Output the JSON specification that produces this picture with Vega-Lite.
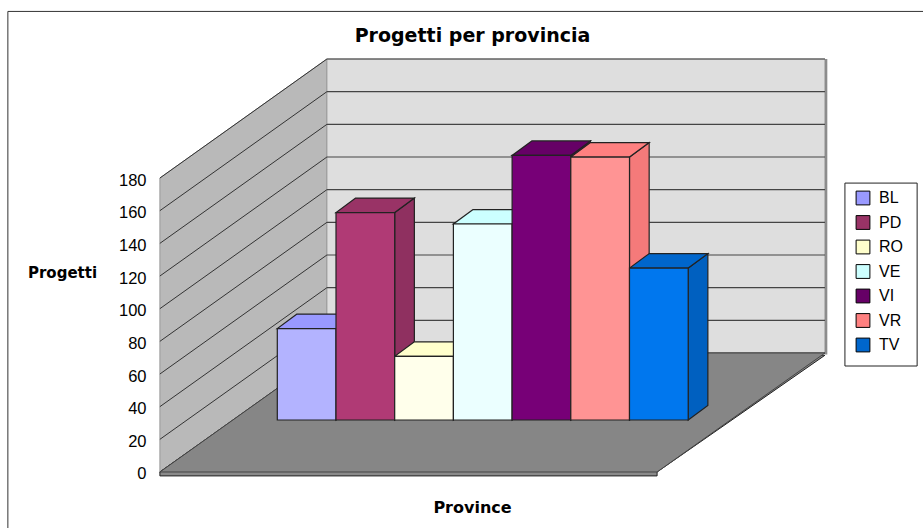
{
"$schema":"https://vega.github.io/schema/vega-lite/v6.json",
"width":923,"height":528,"padding":0,"autosize":{"type":"none"},"background":"white",
"title":{"text":"Progetti per provincia","font":"DejaVu Sans","fontSize":19,"fontWeight":"bold","color":"#000","anchor":"middle","frame":"group","offset":-46,"dx":11},
"config":{"view":{"stroke":null},"font":"Liberation Sans"},
"datasets":{
"province":[
{"provincia":"BL","ordine":0,"progetti":56},
{"provincia":"PD","ordine":1,"progetti":127},
{"provincia":"RO","ordine":2,"progetti":39},
{"provincia":"VE","ordine":3,"progetti":120},
{"provincia":"VI","ordine":4,"progetti":162},
{"provincia":"VR","ordine":5,"progetti":161},
{"provincia":"TV","ordine":6,"progetti":93}],
"griglia":[{"livello":0},{"livello":20},{"livello":40},{"livello":60},{"livello":80},{"livello":100},{"livello":120},{"livello":140},{"livello":160},{"livello":180}],
"cornice":[{"x":-4.59,"x2":11.2,"y":-40,"y2":282}],
"riquadro":[{"x":9.67,"x2":10.9,"y":64.9,"y2":176.9}],
"fianco":[{"x":-2.0,"y":0,"y2":180},{"x":0.845,"y":72.86,"y2":252.86}],
"fondo":[{"x":0.845,"x2":9.33,"y":72.86,"y2":252.86}],
"costa":[{"x":9.33,"x2":9.37,"y":72,"y2":252.86}],
"lastra":[{"x":-2.0,"x2":6.47,"y":-2.4},{"x":-2.0,"x2":6.47,"y":0},{"x":0.845,"x2":9.33,"y":71.5}],
"pavimento":[{"x":-2.0,"x2":6.47,"y":0},{"x":0.845,"x2":9.33,"y":72.86}]
},
"layer":[
{"data":{"name":"cornice"},"mark":{"type":"rect","filled":false,"stroke":"#333333","strokeWidth":1},
 "encoding":{
  "x":{"field":"x","type":"quantitative","scale":{"domain":[-4.724,11.0],"nice":false,"zero":false},
   "axis":{"title":"Province","labels":false,"ticks":false,"domain":false,"grid":false,"titleFont":"DejaVu Sans","titleFontSize":16,"titleFontWeight":"bold","titleColor":"#000","titleX":472,"titleY":-29,"titleAnchor":"middle"}},
  "x2":{"field":"x2"},
  "y":{"field":"y","type":"quantitative","scale":{"domain":[-34.29,289],"nice":false,"zero":false},
   "axis":{"offset":-160,"values":[0,20,40,60,80,100,120,140,160,180],"ticks":false,"domain":false,"grid":false,"labelPadding":14,"labelOffset":2,"labelFont":"Liberation Sans","labelFontSize":16.5,"labelColor":"#000","title":"Progetti","titleAngle":0,"titleFont":"DejaVu Sans","titleFontSize":15,"titleFontWeight":"bold","titleColor":"#000","titleX":-98,"titleY":272,"titleAlign":"center","titleBaseline":"middle"}},
  "y2":{"field":"y2"}}},
{"data":{"name":"riquadro"},"mark":{"type":"rect","fill":"white","stroke":"#222222","strokeWidth":1},
 "encoding":{"x":{"field":"x","type":"quantitative"},"x2":{"field":"x2"},"y":{"field":"y","type":"quantitative"},"y2":{"field":"y2"}}},
{"data":{"name":"fianco"},"mark":{"type":"area","fill":"#B9B9B9","stroke":"#999999","strokeWidth":1,"orient":"vertical"},
 "encoding":{"x":{"field":"x","type":"quantitative"},"y":{"field":"y","type":"quantitative"},"y2":{"field":"y2"}}},
{"data":{"name":"fondo"},"mark":{"type":"rect","fill":"#DEDEDE","stroke":"#999999","strokeWidth":1},
 "encoding":{"x":{"field":"x","type":"quantitative"},"x2":{"field":"x2"},"y":{"field":"y","type":"quantitative"},"y2":{"field":"y2"}}},
{"data":{"name":"costa"},"mark":{"type":"rect","fill":"#8C8C8C"},
 "encoding":{"x":{"field":"x","type":"quantitative"},"x2":{"field":"x2"},"y":{"field":"y","type":"quantitative"},"y2":{"field":"y2"}}},
{"data":{"name":"griglia"},"transform":[{"calculate":"-2.0","as":"xa"},{"calculate":"0.845","as":"xb"},{"calculate":"datum.livello+72.86","as":"yb"}],
 "mark":{"type":"rule","stroke":"#333333","strokeWidth":1},
 "encoding":{"x":{"field":"xa","type":"quantitative"},"x2":{"field":"xb"},"y":{"field":"livello","type":"quantitative"},"y2":{"field":"yb"}}},
{"data":{"name":"griglia"},"transform":[{"calculate":"0.845","as":"xb"},{"calculate":"9.33","as":"xc"},{"calculate":"datum.livello+72.86","as":"yb"}],
 "mark":{"type":"rule","stroke":"#444444","strokeWidth":1.2},
 "encoding":{"x":{"field":"xb","type":"quantitative"},"x2":{"field":"xc"},"y":{"field":"yb","type":"quantitative"}}},
{"data":{"name":"lastra"},"mark":{"type":"area","fill":"#8A8A8A","stroke":"#222222","strokeWidth":1,"orient":"horizontal"},
 "encoding":{"y":{"field":"y","type":"quantitative"},"x":{"field":"x","type":"quantitative"},"x2":{"field":"x2"}}},
{"data":{"name":"pavimento"},"mark":{"type":"area","fill":"#868686","stroke":"#444444","strokeWidth":1,"orient":"horizontal"},
 "encoding":{"y":{"field":"y","type":"quantitative"},"x":{"field":"x","type":"quantitative"},"x2":{"field":"x2"}}},
{"data":{"name":"province"},
 "transform":[{"fold":["ordine","fondo"],"as":["lato","k"]},
  {"calculate":"datum.lato=='ordine'?datum.ordine+1:datum.ordine+1.335","as":"xs"},
  {"calculate":"datum.lato=='ordine'?31.84:40.7","as":"yb"},
  {"calculate":"datum.yb+datum.progetti","as":"yt"}],
 "mark":{"type":"area","stroke":"#222222","strokeWidth":1.2,"orient":"vertical"},
 "encoding":{"x":{"field":"xs","type":"quantitative"},"y":{"field":"yb","type":"quantitative"},"y2":{"field":"yt"},
  "fill":{"field":"provincia","type":"nominal","legend":null,"scale":{"domain":["BL","PD","RO","VE","VI","VR","TV"],"range":["#8F8FF0","#8F3060","#F0F0C0","#C0F0F0","#5F005F","#F57A7A","#0060C0"]}}}},
{"data":{"name":"province"},
 "transform":[{"fold":["ordine","fondo"],"as":["lato","k"]},
  {"calculate":"datum.lato=='ordine'?datum.ordine:datum.ordine+0.335","as":"xa"},
  {"calculate":"datum.xa+1","as":"xb"},
  {"calculate":"datum.lato=='ordine'?31.84+datum.progetti:40.7+datum.progetti","as":"yt"}],
 "mark":{"type":"area","stroke":"#222222","strokeWidth":1.2,"orient":"horizontal"},
 "encoding":{"y":{"field":"yt","type":"quantitative"},"x":{"field":"xa","type":"quantitative"},"x2":{"field":"xb"},
  "fill":{"field":"provincia","type":"nominal",
   "scale":{"domain":["BL","PD","RO","VE","VI","VR","TV"],"range":["#9999FF","#993366","#FFFFCC","#CCFFFF","#660066","#FF8080","#0066CC"]},
   "legend":{"title":null,"orient":"none","legendX":848,"legendY":183,"padding":7,"symbolType":"square","symbolSize":190,"symbolStrokeColor":"#000","symbolStrokeWidth":1,"labelFont":"Liberation Sans","labelFontSize":16,"labelColor":"#000","rowPadding":6.5,"labelOffset":8}}}},
{"data":{"name":"province"},
 "transform":[{"calculate":"datum.ordine+1","as":"xb"},{"calculate":"31.84","as":"yb"},{"calculate":"31.84+datum.progetti","as":"yt"}],
 "mark":{"type":"rect","stroke":"#222222","strokeWidth":1.2},
 "encoding":{"x":{"field":"ordine","type":"quantitative"},"x2":{"field":"xb"},"y":{"field":"yb","type":"quantitative"},"y2":{"field":"yt"},
  "fill":{"field":"provincia","type":"nominal","legend":null,"scale":{"domain":["BL","PD","RO","VE","VI","VR","TV"],"range":["#B3B3FF","#B03A75","#FFFFEB","#EBFFFF","#770077","#FF9494","#0077EE"]}}}}
],
"resolve":{"scale":{"fill":"independent"}}
}
